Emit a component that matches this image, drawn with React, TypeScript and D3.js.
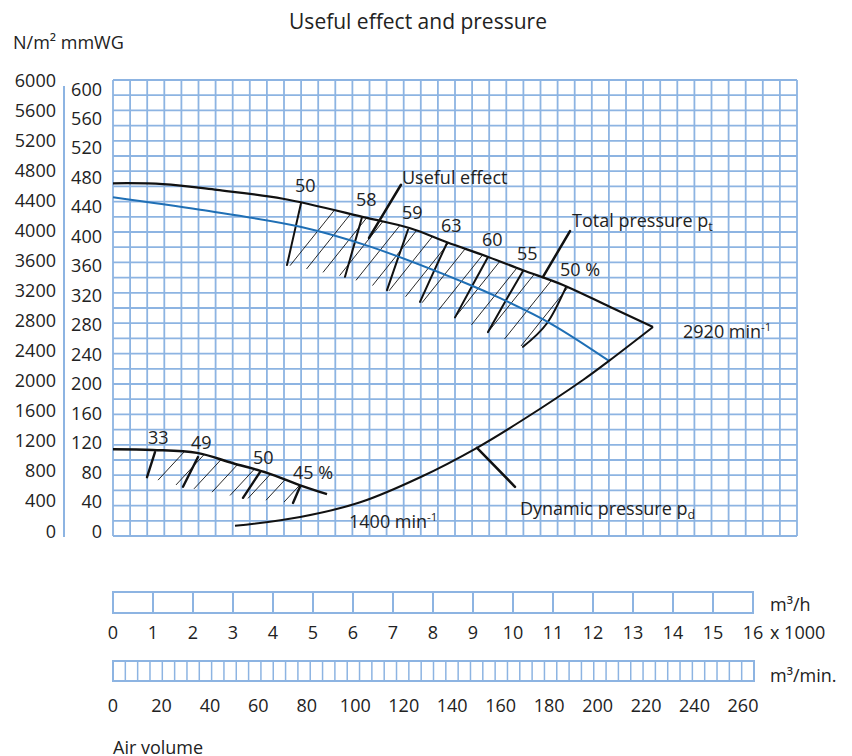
import React from 'react';
import * as d3 from 'd3';

const W = 852;
const H = 756;

// ---- tick labels ----
const mmTicks = [0, 40, 80, 120, 160, 200, 240, 280, 320, 360, 400, 440, 480, 520, 560, 600];
const paTicks = [0, 400, 800, 1200, 1600, 2000, 2400, 2800, 3200, 3600, 4000, 4400, 4800, 5200, 5600, 6000];
const flowHTicks = [0, 1, 2, 3, 4, 5, 6, 7, 8, 9, 10, 11, 12, 13, 14, 15, 16];
const flowMinTicks = [0, 20, 40, 60, 80, 100, 120, 140, 160, 180, 200, 220, 240, 260];

// ---- curves: q in 1000 m³/h, p in mmWG ----
const total2920Q = [0, 1.25, 2.6, 4.25, 6.35, 7.43, 8.35, 9.38, 10.25, 11.25, 12.43, 13.5];
const total2920P = [472, 471, 463, 451, 425, 411, 392, 372, 354, 334, 304, 277];

const blueQ = [0, 2.18, 4.68, 6.43, 8.93, 9.68, 10.93, 12.4];
const blueP = [453, 436, 413, 386, 334, 316, 282, 231];

const dynamicQ = [3.05, 4.68, 6.18, 7.68, 9.1, 10.25, 11.75, 12.4, 13.5];
const dynamicP = [7, 19, 39, 73, 113, 151, 205, 231, 277];

const total1400Q = [0, 1, 2.1, 3, 3.85, 4.68, 5.35];
const total1400P = [111, 110, 106, 92, 79, 62, 50];

// ---- iso-efficiency lines (useful effect, %) ----
const isoUpperLabel = ['50', '58', '59', '63', '60', '55', '50 %'];
const isoUpperTopQ = [4.7, 6.225, 7.375, 8.35, 9.375, 10.25, 11.325];
const isoUpperTopP = [445, 426, 409, 391, 372, 353, 331];
const isoUpperMidQ = [4.525, 6.01, 7.11, 8.01, 8.96, 9.81, 10.85];
const isoUpperMidP = [403, 385, 368, 351, 331, 312, 282];
const isoUpperBotQ = [4.35, 5.8, 6.85, 7.675, 8.55, 9.375, 10.25];
const isoUpperBotP = [361, 345, 327, 311, 290, 270, 250];

const isoLowerLabel = ['33', '49', '50', '45 %'];
const isoLowerTopQ = [1.05, 2.125, 3.675, 4.675];
const isoLowerTopP = [107, 100.5, 80, 60];
const isoLowerBotQ = [0.85, 1.75, 3.25, 4.5];
const isoLowerBotP = [73, 60, 45, 38];

const GRID = '#8DB4E2';
const BLUE = '#1f6fb5';
const INK = '#111';
const TEXT = '#222';
const FONT = "'Open Sans', 'Noto Sans', sans-serif";

type Pt = [number, number];

function interp(pts: Pt[], x: number): number {
  if (x <= pts[0][0]) return pts[0][1];
  for (let i = 1; i < pts.length; i++) {
    if (x <= pts[i][0]) {
      const [x0, y0] = pts[i - 1];
      const [x1, y1] = pts[i];
      return y0 + ((y1 - y0) * (x - x0)) / (x1 - x0);
    }
  }
  return pts[pts.length - 1][1];
}

function hatchLines(lower: Pt[], upper: Pt[], xs: number[], slope: number) {
  return xs.map((x) => {
    const y0 = interp(lower, x);
    let lo = 0;
    let hi = 200;
    for (let i = 0; i < 40; i++) {
      const m = (lo + hi) / 2;
      const f = y0 - slope * m - interp(upper, x + m);
      if (f > 0) lo = m;
      else hi = m;
    }
    return { x1: x, y1: y0, x2: x + lo, y2: y0 - slope * lo };
  });
}

export default function App() {
  const x = d3.scaleLinear().domain([0, 16]).range([113, 753]);
  const y = d3.scaleLinear().domain([0, 600]).range([531, 89]);
  const yPa = d3.scaleLinear().domain([0, 6000]).range([531, 80]);
  const xMinLabel = d3.scaleLinear().domain([0, 260]).range([113, 743]);
  const xMinBar = d3.scaleLinear().domain([0, 52]).range([113, 754]);
  const gx = d3.scaleLinear().domain([0, 40]).range([113, 797]);
  const gy = d3.scaleLinear().domain([0, 30]).range([536, 80]);

  const line = d3
    .line<[number, number]>()
    .x((d) => x(d[0]))
    .y((d) => y(d[1]))
    .curve(d3.curveCatmullRom.alpha(0.5));
  const zip = (a: number[], b: number[]) => a.map((v, i) => [v, b[i]] as [number, number]);

  const totalHi = zip(total2920Q, total2920P);
  const totalLo = zip(total1400Q, total1400P);

  const upperPx: Pt[] = totalHi.map((d) => [x(d[0]), y(d[1])]);
  const lowerBoundPx: Pt[] = isoUpperBotQ.map((q, i) => [x(q), y(isoUpperBotP[i])]);
  const upperXs = d3.range(4.425, 10.23, 0.4125).map((q) => x(q));
  const hatchUpper = hatchLines(lowerBoundPx, upperPx, upperXs, 1.25);

  const lo1400Px: Pt[] = totalLo.map((d) => [x(d[0]), y(d[1])]);
  const lowerBound2Px: Pt[] = isoLowerBotQ.map((q, i) => [x(q), y(isoLowerBotP[i])]);
  const lowerXs = d3.range(1.125, 4.3, 0.45).map((q) => x(q));
  const hatchLower = hatchLines(lowerBound2Px, lo1400Px, lowerXs, 1.08);

  const isoCurve = d3
    .line<[number, number]>()
    .x((d) => x(d[0]))
    .y((d) => y(d[1]))
    .curve(d3.curveNatural);

  const txt = { fontFamily: FONT, fontSize: 18, fill: TEXT } as const;

  return (
    <div style={{ position: 'absolute', left: 0, top: 0 }}>
      <svg width={W} height={H} viewBox={`0 0 ${W} ${H}`} style={{ display: 'block', background: '#fff' }}>
        {/* title */}
        <text x={418} y={29} textAnchor="middle" {...txt} fontSize={21}>
          Useful effect and pressure
        </text>
        <text x={13} y={49} {...txt}>
          N/m² mmWG
        </text>

        {/* grid paper */}
        <g stroke={GRID} strokeWidth={1.8}>
          {d3.range(0, 41).map((i) => (
            <line key={'v' + i} x1={gx(i)} x2={gx(i)} y1={gy(0)} y2={gy(30)} />
          ))}
          {d3.range(0, 31).map((j) => (
            <line key={'h' + j} x1={gx(0)} x2={gx(40)} y1={gy(j)} y2={gy(j)} />
          ))}
        </g>

        {/* left axes */}
        <line x1={64} x2={64} y1={86} y2={537} stroke={GRID} strokeWidth={2} />
        {paTicks.map((t) => (
          <text key={'pa' + t} x={56} y={yPa(t) + 6.5} textAnchor="end" {...txt}>
            {t}
          </text>
        ))}
        {mmTicks.map((t) => (
          <text key={'mm' + t} x={102} y={y(t) + 6.5} textAnchor="end" {...txt}>
            {t}
          </text>
        ))}

        {/* hatching */}
        <g stroke={INK} strokeWidth={0.9}>
          {hatchUpper.map((h, i) => (
            <line key={'hu' + i} {...h} />
          ))}
          {hatchLower.map((h, i) => (
            <line key={'hl' + i} {...h} />
          ))}
        </g>

        {/* iso-efficiency lines */}
        <g stroke={INK} strokeWidth={2} fill="none" strokeLinecap="round">
          {isoUpperLabel.map((l, i) => (
            <path
              key={'iu' + i}
              d={
                isoCurve([
                  [isoUpperTopQ[i], isoUpperTopP[i]],
                  [isoUpperMidQ[i], isoUpperMidP[i]],
                  [isoUpperBotQ[i], isoUpperBotP[i]],
                ]) || ''
              }
            />
          ))}
          {isoLowerLabel.map((l, i) => (
            <line
              key={'il' + i}
              x1={x(isoLowerTopQ[i])}
              y1={y(isoLowerTopP[i])}
              x2={x(isoLowerBotQ[i])}
              y2={y(isoLowerBotP[i])}
              strokeWidth={2.4}
            />
          ))}
        </g>
        {isoUpperLabel.map((l, i) => (
          <text key={'iut' + i} x={x(isoUpperTopQ[i]) - 6} y={y(isoUpperTopP[i]) - 11} {...txt}>
            {l}
          </text>
        ))}
        {isoLowerLabel.map((l, i) => (
          <text key={'ilt' + i} x={x(isoLowerTopQ[i]) - 7} y={y(isoLowerTopP[i]) - 8} {...txt}>
            {l}
          </text>
        ))}

        {/* curves */}
        <path d={line(zip(blueQ, blueP)) || ''} fill="none" stroke={BLUE} strokeWidth={2} />
        <path d={line(totalHi) || ''} fill="none" stroke={INK} strokeWidth={2.2} />
        <path d={line(totalLo) || ''} fill="none" stroke={INK} strokeWidth={2.4} />
        <path d={line(zip(dynamicQ, dynamicP)) || ''} fill="none" stroke={INK} strokeWidth={2} />

        {/* annotation pointers */}
        <g stroke={INK} strokeWidth={2.5} strokeLinecap="round">
          <line x1={x(7.2)} y1={y(470)} x2={x(6.4)} y2={y(398)} />
          <line x1={x(11.425)} y1={y(407)} x2={x(10.75)} y2={y(345)} />
          <line x1={x(9.1)} y1={y(113)} x2={x(10.05)} y2={y(60)} />
        </g>
        <text x={x(7.225)} y={y(471)} {...txt}>
          Useful effect
        </text>
        <text x={x(11.475)} y={y(412)} {...txt}>
          Total pressure p<tspan fontSize={12.5} dy={4}>t</tspan>
        </text>
        <text x={x(14.25)} y={y(262)} {...txt}>
          2920 min<tspan fontSize={11.5} dy={-7}>-1</tspan>
        </text>
        <text x={x(10.175)} y={y(21.5)} {...txt}>
          Dynamic pressure p<tspan fontSize={12.5} dy={4}>d</tspan>
        </text>
        <text x={x(5.9)} y={y(4.5)} {...txt}>
          1400 min<tspan fontSize={11.5} dy={-7}>-1</tspan>
        </text>

        {/* air volume scale m³/h */}
        <g stroke={GRID} strokeWidth={2} fill="none">
          <rect x={x(0)} y={592} width={x(16) - x(0)} height={21} />
          {flowHTicks.slice(1, -1).map((t) => (
            <line key={'bh' + t} x1={x(t)} x2={x(t)} y1={592} y2={613} />
          ))}
        </g>
        {flowHTicks.map((t) => (
          <text key={'fh' + t} x={x(t)} y={638.5} textAnchor="middle" {...txt}>
            {t}
          </text>
        ))}
        <text x={770} y={610.5} {...txt}>
          m³/h
        </text>
        <text x={770} y={638.5} {...txt}>
          x 1000
        </text>

        {/* air volume scale m³/min */}
        <g stroke={GRID} strokeWidth={2} fill="none">
          <rect x={xMinBar(0)} y={661} width={xMinBar(52) - xMinBar(0)} height={20} />
          {d3.range(1, 52).map((c) => (
            <line key={'bm' + c} x1={xMinBar(c)} x2={xMinBar(c)} y1={661} y2={681} strokeWidth={1.5} />
          ))}
        </g>
        {flowMinTicks.map((t) => (
          <text key={'fm' + t} x={xMinLabel(t)} y={711.5} textAnchor="middle" {...txt}>
            {t}
          </text>
        ))}
        <text x={770} y={681.5} {...txt}>
          m³/min.
        </text>

        <text x={113} y={754} {...txt}>
          Air volume
        </text>
      </svg>
    </div>
  );
}
